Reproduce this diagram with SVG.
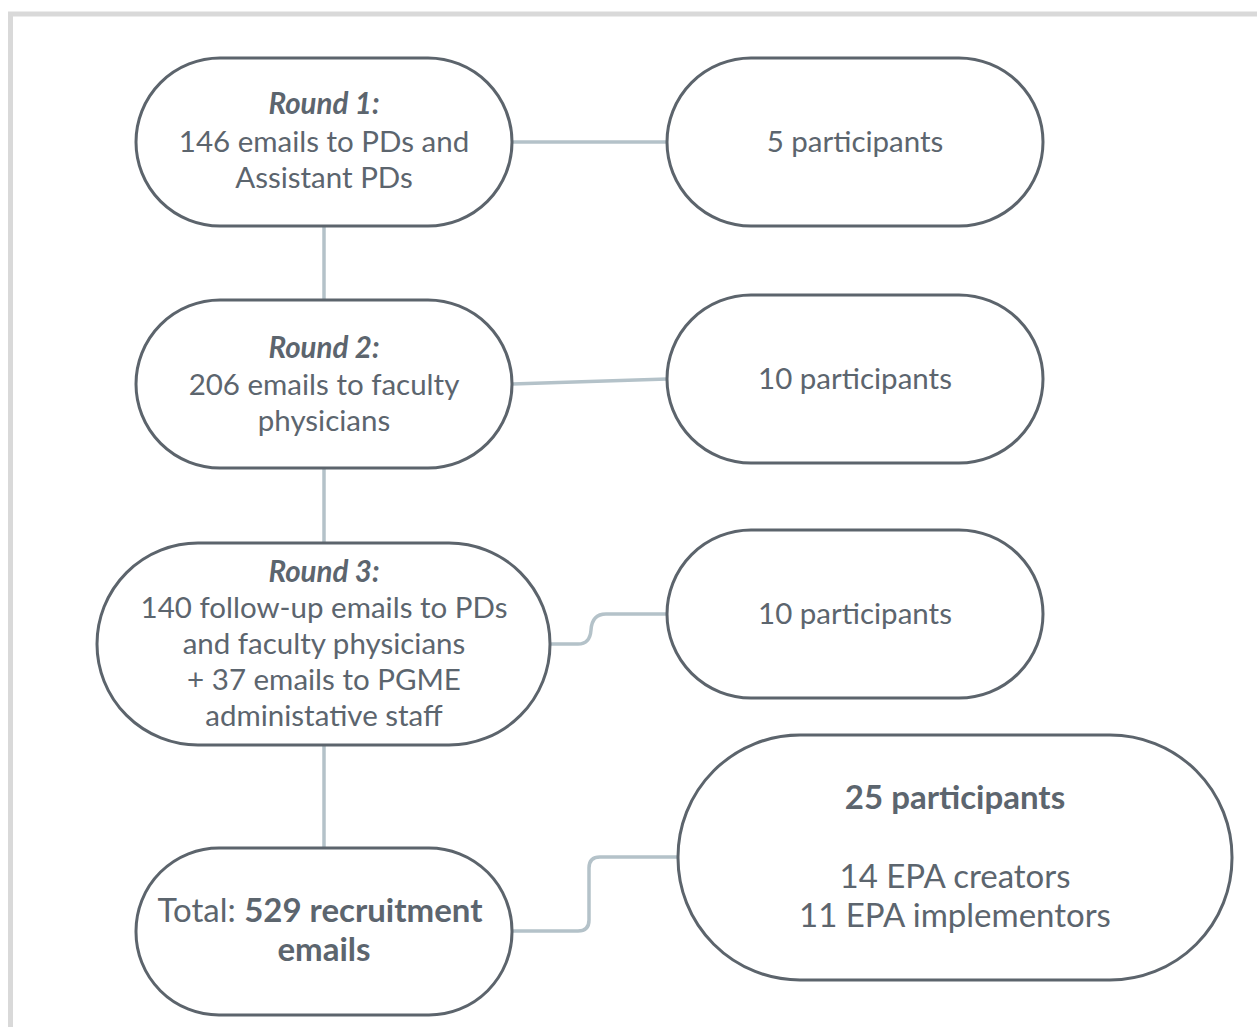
<svg xmlns="http://www.w3.org/2000/svg" width="1257" height="1027" viewBox="0 0 1257 1027">
<style>
.node{fill:#ffffff;stroke:#5c646c;stroke-width:3}
.conn{fill:none;stroke:#b4c2c9;stroke-width:3.5}
text{font-family:Lato,"Noto Sans","Liberation Sans",sans-serif;font-size:29.5px;fill:#5c656e;text-anchor:middle}
.bi{font-weight:bold;font-style:italic}
.b{font-weight:bold}
.lg{font-size:33px}
</style>
<rect x="0" y="0" width="1257" height="1027" fill="#ffffff"/>
<rect x="10.5" y="14" width="1260" height="1040" fill="none" stroke="#d9d9d9" stroke-width="5"/>
<g id="connectors">
<path class="conn" d="M512 142 H667"/>
<path class="conn" d="M324 226 V300"/>
<path class="conn" d="M512 384 L667 379"/>
<path class="conn" d="M324 468 V543"/>
<path class="conn" d="M550 644 H578 Q590 644 591 630 Q592 614 606 614 H667"/>
<path class="conn" d="M324 745 V848"/>
<path class="conn" d="M512 931 H578 Q589 931 589 920 V868 Q589 857 600 857 H678"/>
</g>
<g id="round1">
<rect class="node" x="136" y="58" width="376" height="168" rx="84"/>
<text x="324" y="114" class="bi">Round 1:</text>
<text x="324" y="152">146 emails to PDs and</text>
<text x="324" y="188">Assistant PDs</text>
</g>
<g id="p1">
<rect class="node" x="667" y="58" width="376" height="168" rx="84"/>
<text x="855" y="152">5 participants</text>
</g>
<g id="round2">
<rect class="node" x="136" y="300" width="376" height="168" rx="84"/>
<text x="324" y="358" class="bi">Round 2:</text>
<text x="324" y="395">206 emails to faculty</text>
<text x="324" y="431">physicians</text>
</g>
<g id="p2">
<rect class="node" x="667" y="295" width="376" height="168" rx="84"/>
<text x="855" y="389">10 participants</text>
</g>
<g id="round3">
<rect class="node" x="97" y="543" width="453" height="202" rx="101"/>
<text x="324" y="582" class="bi">Round 3:</text>
<text x="324" y="618">140 follow-up emails to PDs</text>
<text x="324" y="654">and faculty physicians</text>
<text x="324" y="690">+ 37 emails to PGME</text>
<text x="324" y="726">administative staff</text>
</g>
<g id="p3">
<rect class="node" x="667" y="530" width="376" height="168" rx="84"/>
<text x="855" y="624">10 participants</text>
</g>
<g id="total">
<rect class="node" x="136" y="848" width="376" height="167" rx="83"/>
<text x="320" y="922" class="lg">Total: <tspan class="b">529 recruitment</tspan></text>
<text x="324" y="961" class="lg b">emails</text>
</g>
<g id="p4">
<rect class="node" x="678" y="735" width="554" height="245" rx="122"/>
<text x="955" y="809" class="lg b">25 participants</text>
<text x="955" y="888" class="lg">14 EPA creators</text>
<text x="955" y="927" class="lg">11 EPA implementors</text>
</g>
</svg>
